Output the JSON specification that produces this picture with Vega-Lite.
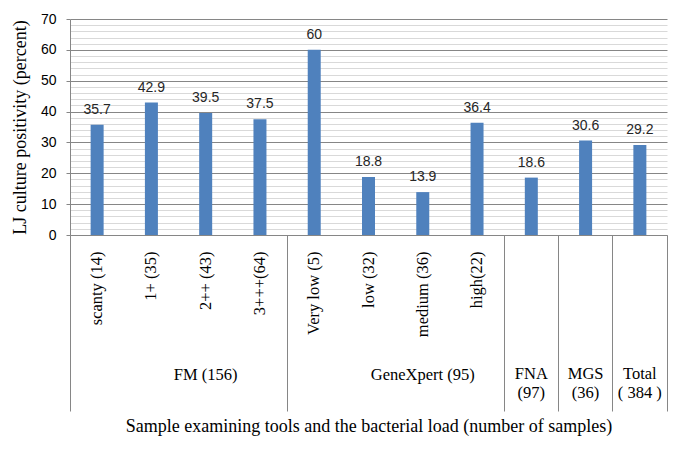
{
  "$schema": "https://vega.github.io/schema/vega-lite/v6.json",
  "width": 597,
  "height": 216,
  "autosize": {"type": "none"},
  "padding": {"left": 70, "top": 19, "right": 18, "bottom": 218},
  "background": "white",
  "data": {"values": [
    {"cat": "scanty (14)", "group": "FM (156)", "value": 35.7},
    {"cat": "1+ (35)", "group": "FM (156)", "value": 42.9},
    {"cat": "2++ (43)", "group": "FM (156)", "value": 39.5},
    {"cat": "3+++(64)", "group": "FM (156)", "value": 37.5},
    {"cat": "Very low (5)", "group": "GeneXpert (95)", "value": 60},
    {"cat": "low (32)", "group": "GeneXpert (95)", "value": 18.8},
    {"cat": "medium (36)", "group": "GeneXpert (95)", "value": 13.9},
    {"cat": "high(22)", "group": "GeneXpert (95)", "value": 36.4},
    {"cat": "FNA (97)", "group": "FNA (97)", "value": 18.6},
    {"cat": "MGS (36)", "group": "MGS (36)", "value": 30.6},
    {"cat": "Total (384)", "group": "Total (384)", "value": 29.2}
  ]},
  "encoding": {
    "y": {
      "field": "value", "type": "quantitative",
      "scale": {"domain": [0, 70], "nice": false},
      "axis": {
        "values": [0,2,4,6,8,10,12,14,16,18,20,22,24,26,28,30,32,34,36,38,40,42,44,46,48,50,52,54,56,58,60,62,64,66,68,70],
        "grid": true,
        "gridColor": {"condition": {"test": "datum.value % 10 === 0", "value": "#868686"}, "value": "#d9d9d9"},
        "gridWidth": 1,
        "tickColor": "#868686",
        "tickOpacity": {"condition": {"test": "datum.value % 10 === 0", "value": 1}, "value": 0},
        "tickSize": 4,
        "labelExpr": "datum.value % 10 === 0 ? datum.label : ''",
        "labelFont": "Liberation Sans",
        "labelFontSize": 14,
        "labelColor": "#000000",
        "labelPadding": 10,
        "domainColor": "#868686",
        "title": "LJ culture positivity (percent)",
        "titleFont": "Liberation Serif, Times New Roman, serif",
        "titleFontSize": 18,
        "titleFontWeight": "normal",
        "titleColor": "#000000",
        "titleX": -50,
        "titleBaseline": "middle"
      }
    }
  },
  "layer": [
    {
      "mark": {"type": "bar", "color": "#4F81BD", "width": 13},
      "encoding": {
        "x": {
          "field": "cat", "type": "nominal", "sort": null,
          "scale": {"paddingInner": 0, "paddingOuter": 0},
          "axis": {
            "orient": "bottom",
            "values": ["scanty (14)", "1+ (35)", "2++ (43)", "3+++(64)", "Very low (5)", "low (32)", "medium (36)", "high(22)"],
            "labelAngle": -90,
            "labelFont": "Liberation Serif, Times New Roman, serif",
            "labelFontSize": 16.5,
            "labelColor": "#000000",
            "labelPadding": 16,
            "labelLimit": 0,
            "ticks": false,
            "domainColor": "#868686",
            "title": "Sample examining tools and the bacterial load (number of samples)",
            "titleFont": "Liberation Serif, Times New Roman, serif",
            "titleFontSize": 18,
            "titleFontWeight": "normal",
            "titleColor": "#000000",
            "titleY": 191,
            "titleBaseline": "middle"
          }
        }
      }
    },
    {
      "mark": {"type": "text", "baseline": "bottom", "dy": -8, "font": "Liberation Sans", "fontSize": 14, "color": "#262626"},
      "encoding": {
        "x": {"field": "cat", "type": "nominal", "sort": null, "axis": null},
        "text": {"field": "value", "type": "quantitative"}
      }
    },
    {
      "mark": {"type": "bar", "opacity": 0},
      "encoding": {
        "x": {
          "field": "cat", "type": "nominal", "sort": null,
          "axis": {
            "orient": "bottom",
            "values": ["3+++(64)", "high(22)", "FNA (97)", "MGS (36)", "Total (384)"],
            "bandPosition": 1,
            "tickSize": 176,
            "tickColor": "#868686",
            "labels": false,
            "domain": false,
            "title": null
          }
        }
      }
    },
    {
      "mark": {"type": "bar", "opacity": 0},
      "encoding": {
        "x": {
          "field": "cat", "type": "nominal", "sort": null,
          "axis": {
            "orient": "bottom",
            "values": ["scanty (14)"],
            "bandPosition": 0,
            "tickSize": 176,
            "tickColor": "#868686",
            "labels": false,
            "domain": false,
            "title": null
          }
        }
      }
    },
    {
      "mark": {"type": "bar", "opacity": 0},
      "encoding": {
        "x": {
          "field": "cat", "type": "nominal", "sort": null,
          "axis": {
            "orient": "bottom",
            "values": ["2++ (43)", "medium (36)"],
            "bandPosition": 0,
            "ticks": false,
            "domain": false,
            "labelAngle": 0,
            "labelAlign": "center",
            "labelBaseline": "middle",
            "labelPadding": 139,
            "labelExpr": "datum.value == '2++ (43)' ? 'FM (156)' : 'GeneXpert (95)'",
            "labelFont": "Liberation Serif, Times New Roman, serif",
            "labelFontSize": 16.5,
            "labelColor": "#000000",
            "title": null
          }
        }
      }
    },
    {
      "mark": {"type": "bar", "opacity": 0},
      "encoding": {
        "x": {
          "field": "cat", "type": "nominal", "sort": null,
          "axis": {
            "orient": "bottom",
            "values": ["FNA (97)", "MGS (36)", "Total (384)"],
            "bandPosition": 0.5,
            "ticks": false,
            "domain": false,
            "labelAngle": 0,
            "labelAlign": "center",
            "labelBaseline": "top",
            "labelPadding": 130,
            "labelLineHeight": 19,
            "labelExpr": "datum.value == 'Total (384)' ? ['Total', '( 384 )'] : split(datum.value, ' ')",
            "labelFont": "Liberation Serif, Times New Roman, serif",
            "labelFontSize": 16.5,
            "labelColor": "#000000",
            "title": null
          }
        }
      }
    }
  ],
  "resolve": {"axis": {"x": "independent"}},
  "config": {"view": {"stroke": null}}
}
